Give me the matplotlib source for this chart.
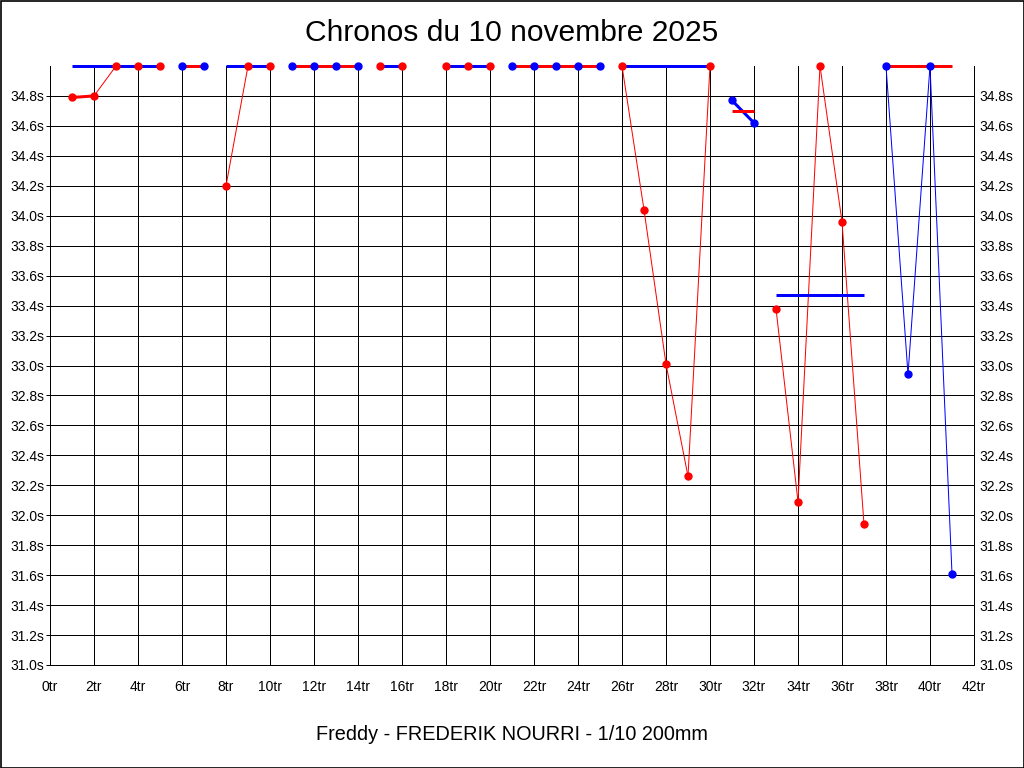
import matplotlib
matplotlib.use("Agg")
import matplotlib.pyplot as plt
from matplotlib.patches import Rectangle

plt.rcParams['font.family'] = ['Liberation Sans', 'DejaVu Sans']

# tours (le tour 17 manque)
laps = list(range(1, 17)) + list(range(18, 42))
# temps au tour en secondes (valeurs > 35s affichees en haut a 35.0)
lap_times = [34.79, 34.80, 35.0, 35.0, 35.0,     # 1-5
             35.0, 35.0,                         # 6-7
             34.20, 35.0, 35.0,                  # 8-10
             35.0, 35.0, 35.0, 35.0,             # 11-14
             35.0, 35.0,                         # 15-16
             35.0, 35.0, 35.0,                   # 18-20
             35.0, 35.0, 35.0, 35.0, 35.0,       # 21-25
             35.0, 34.04, 33.01, 32.26, 35.0,    # 26-30
             34.77, 34.62,                       # 31-32
             33.38, 32.09, 35.0, 33.96, 31.94,   # 33-37
             35.0, 32.94, 35.0, 31.61]           # 38-41

# series (relais)
series_first = [1, 6, 8, 11, 15, 18, 21, 26, 31, 33, 38]
series_last = [5, 7, 10, 14, 16, 20, 25, 30, 32, 37, 41]
series_color = ['red', 'blue', 'red', 'blue', 'red', 'red', 'blue', 'red', 'blue', 'red', 'blue']
series_mean = [35.0, 35.0, 35.0, 35.0, 35.0, 35.0, 35.0, 35.0, 34.70, 33.47, 35.0]

title = "Chronos du 10 novembre 2025"
footer = "Freddy - FREDERIK NOURRI - 1/10 200mm"

PX = 0.72  # 1 pixel in points at dpi 100

fig = plt.figure(figsize=(10.24, 7.68), dpi=100)
ax = fig.add_axes([50/1024, 1 - 665/768, 924/1024, 599/768])
ax.set_xlim(0, 42)
ax.set_ylim(31.0, 35.0)

xticks = list(range(0, 43, 2))
yticks = [round(31.0 + 0.2*i, 1) for i in range(20)]
ax.set_xticks(xticks)
ax.set_xticklabels([f"{t}tr" for t in xticks])
ax.set_yticks(yticks)
ax.set_yticklabels([f"{t:.1f}s" for t in yticks])

for t in xticks[1:]:
    ax.axvline(t, color='black', lw=PX, zorder=1)
for t in yticks[1:]:
    ax.axhline(t, color='black', lw=PX, zorder=1)

ax.spines['top'].set_visible(False)
for s in ['left', 'bottom', 'right']:
    ax.spines[s].set_linewidth(PX)

ax.tick_params(axis='y', left=True, right=False, labelleft=True, labelright=True,
               length=3, width=PX, pad=1.2, labelsize=10)
ax.tick_params(axis='x', length=0, pad=10.5, labelsize=10)

tr = ax.transData
for first, last, col, mean in zip(series_first, series_last, series_color, series_mean):
    idx = [i for i, l in enumerate(laps) if first <= l <= last]
    xs = [laps[i] for i in idx]
    ys = [lap_times[i] for i in idx]
    other = 'blue' if col == 'red' else 'red'
    # segments: thick when flat, thin when steep
    for k in range(len(xs) - 1):
        p0 = tr.transform((xs[k], ys[k]))
        p1 = tr.transform((xs[k+1], ys[k+1]))
        flat = abs(p1[1] - p0[1]) <= 1.2 * abs(p1[0] - p0[0])
        ax.plot(xs[k:k+2], ys[k:k+2], color=col, lw=(3 if flat else 1)*PX,
                clip_on=False, zorder=2, solid_capstyle='butt')
    ax.plot([first, last], [mean, mean], color=other, lw=3*PX, clip_on=False,
            zorder=3, solid_capstyle='butt')
    ax.plot(xs, ys, 'o', color=col, ms=5, mec=col, clip_on=False, zorder=4)

fig.text(0.5, 1 - 33/768, title, ha='center', va='center', fontsize=21.6)
fig.text(0.5, 1 - 735/768, footer, ha='center', va='center', fontsize=14.3)

fig.patches.append(Rectangle((0.5/1024, 0.5/768), 1023/1024, 767/768,
                             transform=fig.transFigure, fill=False,
                             edgecolor='black', lw=1.2))

fig.savefig("out.png", dpi=100, facecolor='white')
